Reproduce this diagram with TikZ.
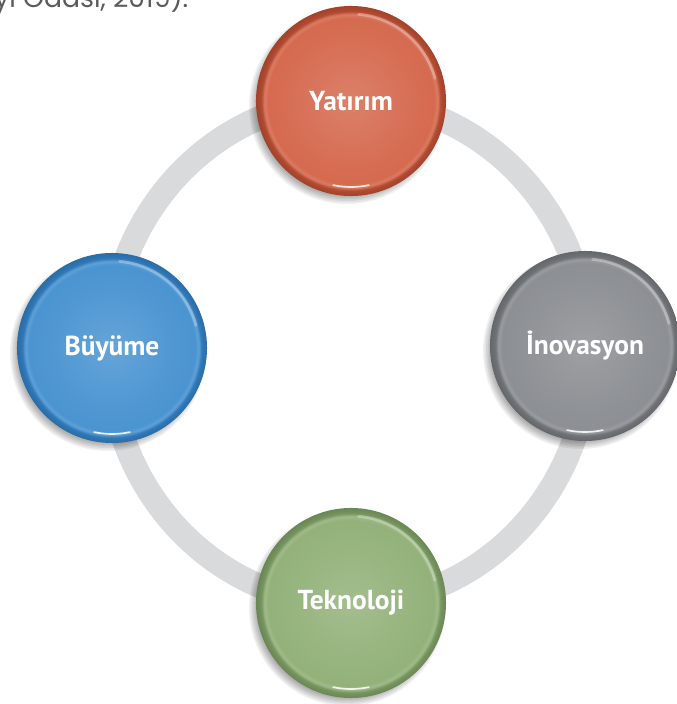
\documentclass[tikz,border=0pt]{standalone}
\usepackage{fontspec}
\setmainfont{PT Sans}
\newfontfamily\srcfont{Poppins}
\usetikzlibrary{calc}
\definecolor{ringgray}{HTML}{D9DADB}
\definecolor{srcgray}{HTML}{5A5B5D}
\definecolor{yatbase}{HTML}{D56A4F}
\definecolor{yatrim}{HTML}{B24A30}
\definecolor{inobase}{HTML}{8C8F93}
\definecolor{inorim}{HTML}{6F7276}
\definecolor{tekbase}{HTML}{93B27A}
\definecolor{tekrim}{HTML}{76955E}
\definecolor{buybase}{HTML}{4A94D1}
\definecolor{buyrim}{HTML}{2F78B8}
\colorlet{ballbase}{gray}
\colorlet{ballrim}{black}
\pgfdeclareradialshading[ballbase,ballrim]{glossy}{\pgfpoint{0bp}{0bp}}{%
  color(0bp)=(ballbase!85!white); color(15bp)=(ballbase!96!white);
  color(21.8bp)=(ballbase); color(22.8bp)=(ballbase!88!white);
  color(23.6bp)=(ballrim); color(25bp)=(ballrim!90!black); color(50bp)=(ballrim!90!black)}

\begin{document}
\begin{tikzpicture}[x=0.025cm, y=0.025cm,
    ball/.style 2 args={circle, minimum size=4.75cm, inner sep=0pt, text=white,
        font=\bfseries\fontsize{19.5}{22}\selectfont,
        /utils/exec={\colorlet{ballbase}{#1}\colorlet{ballrim}{#2}}, shading=glossy},
    gloss/.style={white, line cap=round}
]
    \useasboundingbox (0,0) rectangle (677,704);
    \clip (0,0) rectangle (677,704);

    % source line, cut off at the top
    \node[anchor=base west, text=srcgray, font=\srcfont\fontsize{19}{22}\selectfont, inner sep=0pt] (src) at (-6,696) {yi Odası, 2019).};

    \coordinate (hub) at (349,352);
    \draw[ringgray, line width=0.6cm] (hub) ellipse [x radius=240, y radius=252];

    \foreach \n/\x/\y/\lbl/\col in {yat/351/603/Yatırım/yat, ino/585/358/İnovasyon/ino, tek/351/101/Teknoloji/tek, buy/112/356/Büyüme/buy} {
        \foreach \s in {0,...,6}
            \fill[black, opacity=0.06] (\x-4,\y-5) circle (98-\s*1.5);
        \node[ball={\col base}{\col rim}] (\n) at (\x,\y) {\lbl};
        \draw[gloss, opacity=.3, line width=2pt] (\n.center) ++(15:87) arc (15:85:87);
        \draw[gloss, opacity=.85, line width=1.2pt] (\n.center) ++(258:86) arc (258:282:86);
    }
\end{tikzpicture}
\end{document}
